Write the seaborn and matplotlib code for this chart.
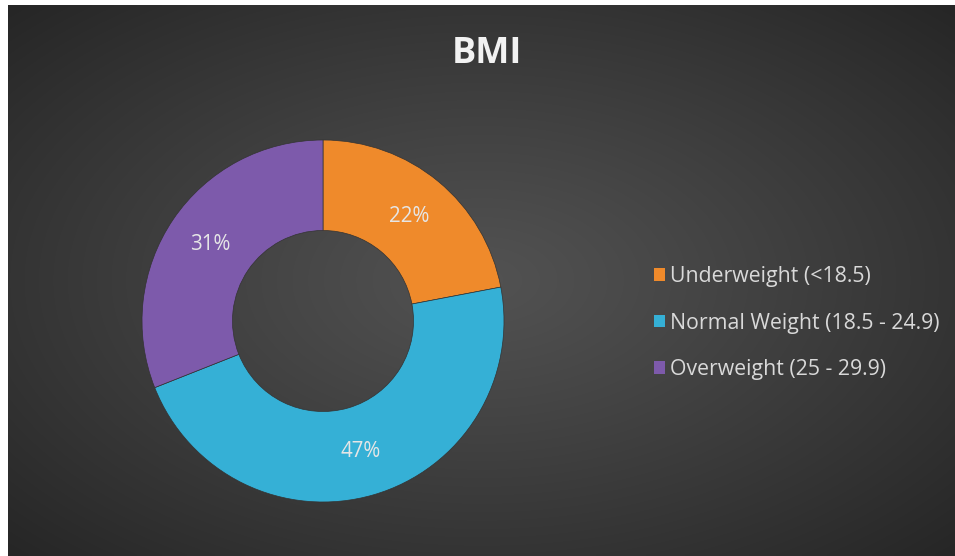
import numpy as np
import matplotlib
matplotlib.use("Agg")
import matplotlib.pyplot as plt
import seaborn as sns
from matplotlib.patches import Patch

categories = ["Underweight (<18.5)", "Normal Weight (18.5 - 24.9)", "Overweight (25 - 29.9)"]
values = [22, 47, 31]
colors = ["#EF8A2B", "#35B0D6", "#7D5AAB"]
title = "BMI"

sns.set_style("white")
plt.rcParams["font.family"] = ["Open Sans", "DejaVu Sans"]

W, H = 955, 556
fig = plt.figure(figsize=(W / 100, H / 100), dpi=100)
fig.patch.set_facecolor("white")

# background panel with radial gradient
x0, y0 = 8, 5
bg = fig.add_axes([x0 / W, 0, 1 - x0 / W, (H - y0) / H])
bg.set_axis_off()
nx, ny = 300, 180
xx, yy = np.meshgrid(np.linspace(-1, 1, nx), np.linspace(-1, 1, ny))
r = np.sqrt(xx ** 2 + yy ** 2) / np.sqrt(2)
r = np.clip(r, 0, 1)
c0, c1 = 0x52 / 255, 0x26 / 255
g = c0 + (c1 - c0) * r ** 1.1
img = np.dstack([g, g, g])
bg.imshow(img, aspect="auto", extent=[0, 1, 0, 1], interpolation="bilinear")
bg.set_xlim(0, 1)
bg.set_ylim(0, 1)

# donut
cx, cy, R = 323, 321, 181
ax = fig.add_axes([(cx - R) / W, (H - cy - R) / H, 2 * R / W, 2 * R / H])
ax.set_axis_off()
wedges, texts, autotexts = ax.pie(
    values, colors=colors, startangle=90, counterclock=False,
    radius=1.0, autopct="%d%%", pctdistance=0.75,
    wedgeprops=dict(width=0.5, edgecolor="#333333", linewidth=0.5),
    textprops=dict(color="#E6E6E6", fontsize=14.8),
)
ax.set_xlim(-1, 1)
ax.set_ylim(-1, 1)
ax.set_aspect("equal")

fig.text(487 / W, 1 - 54 / H, title, ha="center", va="center",
         fontsize=26, fontweight="bold", color="#F2F2F2")

# legend
handles = [Patch(facecolor=c, edgecolor="none") for c in colors]
leg = fig.legend(handles, categories, loc="center left",
                 bbox_to_anchor=(635 / W, 1 - 323 / H), frameon=False,
                 fontsize=15.3, labelcolor="#D9D9D9", handlelength=0.5,
                 handleheight=0.5, handletextpad=0.25, labelspacing=1.2)

fig.savefig("out.png", dpi=100, facecolor=fig.get_facecolor())
